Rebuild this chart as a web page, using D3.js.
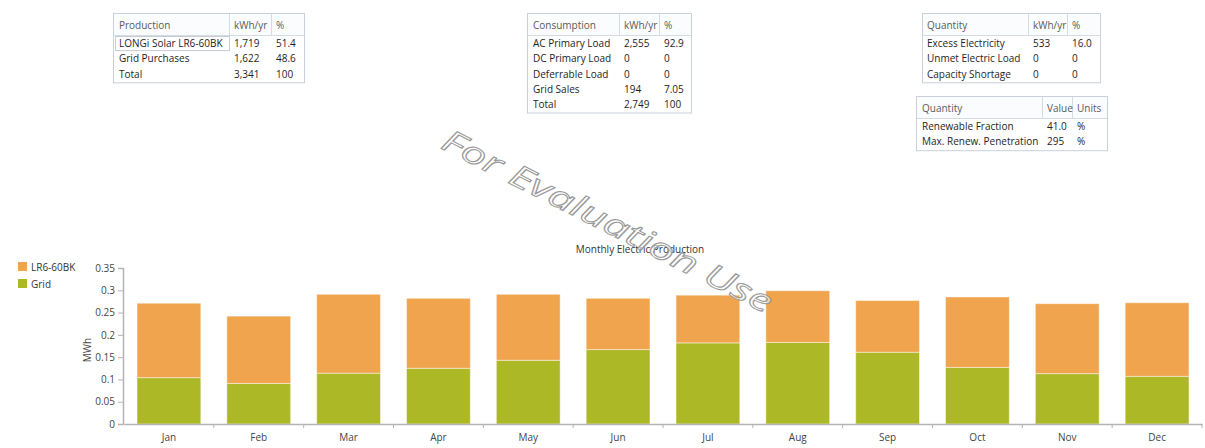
<!DOCTYPE html>
<html>
<head>
<meta charset="utf-8">
<script src="https://cdn.jsdelivr.net/npm/d3@7"></script>
<style>
  html, body { margin: 0; padding: 0; background: #fff; }
  svg { display: block; font-family: "Open Sans", "Noto Sans", sans-serif; }
</style>
</head>
<body>
<svg id="chart" width="1205" height="448"></svg>
<script>
// ---- data ----
const months = ["Jan","Feb","Mar","Apr","May","Jun","Jul","Aug","Sep","Oct","Nov","Dec"];
const gridMWh = [0.104, 0.091, 0.114, 0.125, 0.143, 0.167, 0.182, 0.183, 0.161, 0.127, 0.113, 0.107];
const pvMWh   = [0.167, 0.151, 0.177, 0.157, 0.148, 0.115, 0.107, 0.116, 0.116, 0.158, 0.157, 0.165];
const seriesNames = ["Grid", "LR6-60BK"];
const legendNames = ["LR6-60BK", "Grid"];
const yTicks = [0, 0.05, 0.1, 0.15, 0.2, 0.25, 0.3, 0.35];
const chartTitle = "Monthly Electric Production";
const yLabel = "MWh";
const watermark = "For Evaluation Use";

const prodHeader = ["Production", "kWh/yr", "%"];
const prodRows = [["LONGi Solar LR6-60BK", "1,719", "51.4"], ["Grid Purchases", "1,622", "48.6"], ["Total", "3,341", "100"]];
const consHeader = ["Consumption", "kWh/yr", "%"];
const consRows = [["AC Primary Load", "2,555", "92.9"], ["DC Primary Load", "0", "0"], ["Deferrable Load", "0", "0"], ["Grid Sales", "194", "7.05"], ["Total", "2,749", "100"]];
const qtyHeader = ["Quantity", "kWh/yr", "%"];
const qtyRows = [["Excess Electricity", "533", "16.0"], ["Unmet Electric Load", "0", "0"], ["Capacity Shortage", "0", "0"]];
const renHeader = ["Quantity", "Value", "Units"];
const renRows = [["Renewable Fraction", "41.0", "%"], ["Max. Renew. Penetration", "295", "%"]];

// ---- setup ----
const svg = d3.select("#chart");
const colors = { "Grid": "#adb827", "LR6-60BK": "#f0a44e" };

// ---- tables ----
function drawTable(x, y, colX, width, header, rows, selectFirst) {
  const g = svg.append("g").attr("transform", `translate(${x},${y})`);
  const headH = 22, rowH = 15.1;
  const h = headH + rows.length * rowH + 2;
  g.append("rect").attr("x", 0.5).attr("y", 0.5).attr("width", width).attr("height", h)
    .attr("fill", "#fff").attr("stroke", "#c9d0d9");
  g.append("rect").attr("x", 1).attr("y", 1).attr("width", width - 1).attr("height", headH - 1)
    .attr("fill", "#fbfcfd");
  g.append("line").attr("x1", 0.5).attr("x2", width + 0.5).attr("y1", headH + 0.5).attr("y2", headH + 0.5)
    .attr("stroke", "#d5dbe2");
  colX.slice(1).forEach(cx => {
    g.append("line").attr("x1", cx - 4.5).attr("x2", cx - 4.5).attr("y1", 1).attr("y2", headH)
      .attr("stroke", "#d5dbe2");
  });
  header.forEach((t, i) => {
    g.append("text").attr("x", colX[i]).attr("y", headH / 2 + 1).attr("dominant-baseline", "central")
      .attr("font-size", 10).attr("fill", "#5a5a5a").text(t);
  });
  if (selectFirst) {
    g.append("rect").attr("x", 2.5).attr("y", headH + 1.5).attr("width", colX[1] - 7).attr("height", rowH - 1)
      .attr("fill", "none").attr("stroke", "#c6ccd4");
  }
  rows.forEach((r, j) => {
    r.forEach((t, i) => {
      g.append("text").attr("x", colX[i]).attr("y", headH + rowH * j + rowH / 2 + 0.8)
        .attr("dominant-baseline", "central").attr("font-size", 10).attr("fill", "#1e1e1e").text(t);
    });
  });
}
drawTable(113, 13, [6, 121, 163], 191, prodHeader, prodRows, true);
drawTable(527, 13, [6, 97, 137], 164, consHeader, consRows, false);
drawTable(922, 13, [5, 111, 150], 178, qtyHeader, qtyRows, false);
drawTable(916, 96, [6, 131, 161], 191, renHeader, renRows, false);

// ---- chart ----
const x = d3.scaleBand().domain(months).range([124, 1202]).paddingInner(0.29).paddingOuter(0.145);
const y = d3.scaleLinear().domain([0, 0.35]).range([424, 268]);

const data = months.map((m, i) => ({ month: m, "Grid": gridMWh[i], "LR6-60BK": pvMWh[i] }));
const stack = d3.stack().keys(seriesNames)(data);

svg.append("g").selectAll("g").data(stack).join("g")
  .attr("fill", d => colors[d.key])
  .selectAll("rect").data(d => d).join("rect")
  .attr("x", d => x(d.data.month))
  .attr("width", x.bandwidth())
  .attr("y", d => y(d[1]))
  .attr("height", d => y(d[0]) - y(d[1]))
  .attr("stroke", "rgba(255,255,255,0.45)")
  .attr("stroke-width", 1);

// y axis
const yAxis = svg.append("g").attr("transform", "translate(123,0)")
  .call(d3.axisLeft(y).tickValues(yTicks).tickFormat(d => String(+d.toFixed(2))).tickSize(5).tickPadding(3));
yAxis.select(".domain").attr("stroke", "#b4b4b4").attr("stroke-width", 1.5);
yAxis.selectAll(".tick line").attr("stroke", "#b4b4b4");
yAxis.selectAll(".tick text").attr("font-size", 10).attr("fill", "#454545")
  .attr("font-family", "\"Open Sans\", sans-serif");

// x axis
const xAxis = svg.append("g").attr("transform", "translate(0,424)")
  .call(d3.axisBottom(x).tickSize(0).tickPadding(10));
xAxis.select(".domain").attr("stroke", "#b4b4b4").attr("stroke-width", 1.5);
xAxis.selectAll(".tick text").attr("font-size", 10).attr("fill", "#454545")
  .attr("font-family", "\"Open Sans\", sans-serif");
const gap = (x.step() - x.bandwidth()) / 2;
xAxis.selectAll(".bound").data(months).join("line").attr("class", "bound")
  .attr("x1", d => x(d) + x.bandwidth() + gap).attr("x2", d => x(d) + x.bandwidth() + gap)
  .attr("y1", 0).attr("y2", 4).attr("stroke", "#b4b4b4");

// y label
svg.append("text").attr("transform", "translate(87,350) rotate(-90)")
  .attr("text-anchor", "middle").attr("dominant-baseline", "central")
  .attr("font-size", 10).attr("fill", "#454545").text(yLabel);

// title
svg.append("text").attr("x", 640).attr("y", 249).attr("text-anchor", "middle")
  .attr("dominant-baseline", "central").attr("font-size", 10).attr("fill", "#333").text(chartTitle);

// legend
const lg = svg.append("g").selectAll("g").data(legendNames).join("g")
  .attr("transform", (d, i) => `translate(18,${262 + i * 17})`);
lg.append("rect").attr("width", 9).attr("height", 9).attr("fill", d => colors[d]);
lg.append("text").attr("x", 13).attr("y", 4.5).attr("dominant-baseline", "central")
  .attr("font-size", 10).attr("fill", "#333").text(d => d);

// watermark
svg.append("text").attr("transform", "translate(608,220) rotate(27)")
  .attr("text-anchor", "middle").attr("dominant-baseline", "central")
  .attr("font-size", 31).attr("font-style", "italic")
  .attr("textLength", 366).attr("lengthAdjust", "spacingAndGlyphs")
  .attr("fill", "rgba(255,255,255,0.6)").attr("stroke", "#9a9a9a").attr("stroke-width", 1)
  .text(watermark);
</script>
</body>
</html>
